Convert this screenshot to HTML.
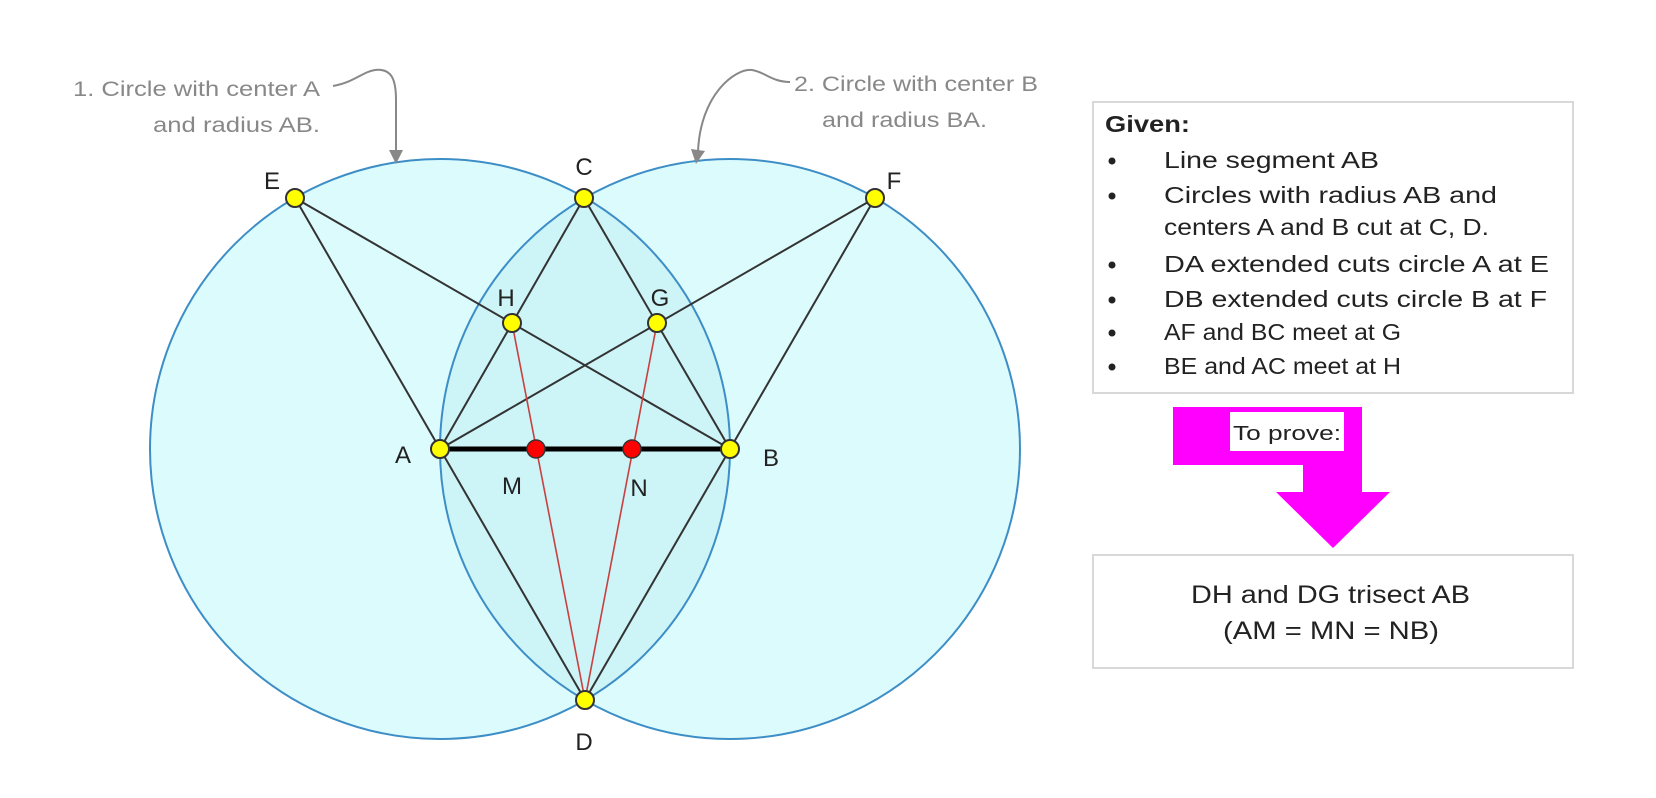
<!DOCTYPE html>
<html><head><meta charset="utf-8"><style>
html,body{margin:0;padding:0;background:#fff;}
svg{display:block;}
text{font-family:"Liberation Sans",sans-serif;}
</style></head><body>
<svg width="1656" height="798" viewBox="0 0 1656 798" xmlns="http://www.w3.org/2000/svg">
<defs>
<clipPath id="cA"><circle cx="440" cy="449" r="290"/></clipPath>
</defs>
<circle cx="440" cy="449" r="290" fill="#dcfbfd"/>
<circle cx="730" cy="449" r="290" fill="#dcfbfd"/>
<circle cx="730" cy="449" r="290" fill="#cdf4f7" clip-path="url(#cA)"/>
<circle cx="440" cy="449" r="290" fill="none" stroke="#3d8ec6" stroke-width="2"/>
<circle cx="730" cy="449" r="290" fill="none" stroke="#3d8ec6" stroke-width="2"/>
<g stroke="#333" stroke-width="2" fill="none">
<line x1="295" y1="198" x2="585" y2="700"/>
<line x1="875" y1="198" x2="585" y2="700"/>
<line x1="295" y1="198" x2="730" y2="449"/>
<line x1="875" y1="198" x2="440" y2="449"/>
<line x1="440" y1="449" x2="584" y2="198"/>
<line x1="730" y1="449" x2="584" y2="198"/>
</g>
<g stroke="#c84040" stroke-width="1.6">
<line x1="512" y1="323" x2="585" y2="700"/>
<line x1="657" y1="323" x2="585" y2="700"/>
</g>
<line x1="440" y1="449" x2="730" y2="449" stroke="#000" stroke-width="5"/>
<g fill="#ffff00" stroke="#333" stroke-width="2">
<circle cx="440" cy="449" r="9"/><circle cx="730" cy="449" r="9"/>
<circle cx="584" cy="198" r="9"/><circle cx="585" cy="700" r="9"/>
<circle cx="295" cy="198" r="9"/><circle cx="875" cy="198" r="9"/>
<circle cx="512" cy="323" r="9"/><circle cx="657" cy="323" r="9"/>
</g>
<g fill="#ff0000" stroke="#333" stroke-width="1.5">
<circle cx="536" cy="449" r="9"/><circle cx="632" cy="449" r="9"/>
</g>
<g font-size="24" fill="#222" text-anchor="middle">
<text x="272" y="189">E</text>
<text x="584" y="175">C</text>
<text x="894" y="189">F</text>
<text x="506" y="306">H</text>
<text x="660" y="306">G</text>
<text x="403" y="463">A</text>
<text x="771" y="466">B</text>
<text x="512" y="494">M</text>
<text x="639" y="496">N</text>
<text x="584" y="750">D</text>
</g>
<g font-size="21" fill="#888" lengthAdjust="spacingAndGlyphs">
<text x="73" y="96" textLength="247" lengthAdjust="spacingAndGlyphs">1. Circle with center A</text>
<text x="153" y="132" textLength="167" lengthAdjust="spacingAndGlyphs">and radius AB.</text>
<text x="794" y="91" textLength="244" lengthAdjust="spacingAndGlyphs">2. Circle with center B</text>
<text x="822" y="127" textLength="165" lengthAdjust="spacingAndGlyphs">and radius BA.</text>
</g>
<g stroke="#888" stroke-width="2" fill="none">
<path d="M333,86 C355,82 362,72 375,70 C392,68 396,80 396,100 L396,152"/>
<path d="M790,82 C772,82 765,72 752,70 C735,68 700,95 698,152"/>
</g>
<g fill="#888">
<polygon points="389,150 403,150 396,164"/>
<polygon points="691,149 705,151 696,164"/>
</g>
<rect x="1093" y="102" width="480" height="291" fill="#fff" stroke="#d8d8d8" stroke-width="2"/>
<g font-size="23" fill="#222">
<text x="1105" y="132" font-weight="bold" textLength="85" lengthAdjust="spacingAndGlyphs">Given:</text>
<text x="1164" y="168" textLength="215" lengthAdjust="spacingAndGlyphs">Line segment AB</text>
<text x="1164" y="203" textLength="333" lengthAdjust="spacingAndGlyphs">Circles with radius AB and</text>
<text x="1164" y="235" textLength="325" lengthAdjust="spacingAndGlyphs">centers A and B cut at C, D.</text>
<text x="1164" y="272" textLength="385" lengthAdjust="spacingAndGlyphs">DA extended cuts circle A at E</text>
<text x="1164" y="307" textLength="383" lengthAdjust="spacingAndGlyphs">DB extended cuts circle B at F</text>
<text x="1164" y="340" textLength="237" lengthAdjust="spacingAndGlyphs">AF and BC meet at G</text>
<text x="1164" y="374" textLength="237" lengthAdjust="spacingAndGlyphs">BE and AC meet at H</text>
</g>
<g fill="#222">
<circle cx="1112" cy="161" r="3.5"/><circle cx="1112" cy="196" r="3.5"/>
<circle cx="1112" cy="265" r="3.5"/><circle cx="1112" cy="300" r="3.5"/>
<circle cx="1112" cy="333" r="3.5"/><circle cx="1112" cy="367" r="3.5"/>
</g>
<polygon points="1173,407 1362,407 1362,492 1390,492 1333,548 1276,492 1303,492 1303,465 1173,465" fill="#ff00ff"/>
<rect x="1230" y="412" width="114" height="39" fill="#fff"/>
<text x="1233" y="440" font-size="20" fill="#222" textLength="108" lengthAdjust="spacingAndGlyphs">To prove:</text>
<rect x="1093" y="555" width="480" height="113" fill="#fff" stroke="#d8d8d8" stroke-width="2"/>
<g font-size="25" fill="#222">
<text x="1191" y="603" textLength="279" lengthAdjust="spacingAndGlyphs">DH and DG trisect AB</text>
<text x="1223" y="639" textLength="216" lengthAdjust="spacingAndGlyphs">(AM = MN = NB)</text>
</g>
</svg>
</body></html>
